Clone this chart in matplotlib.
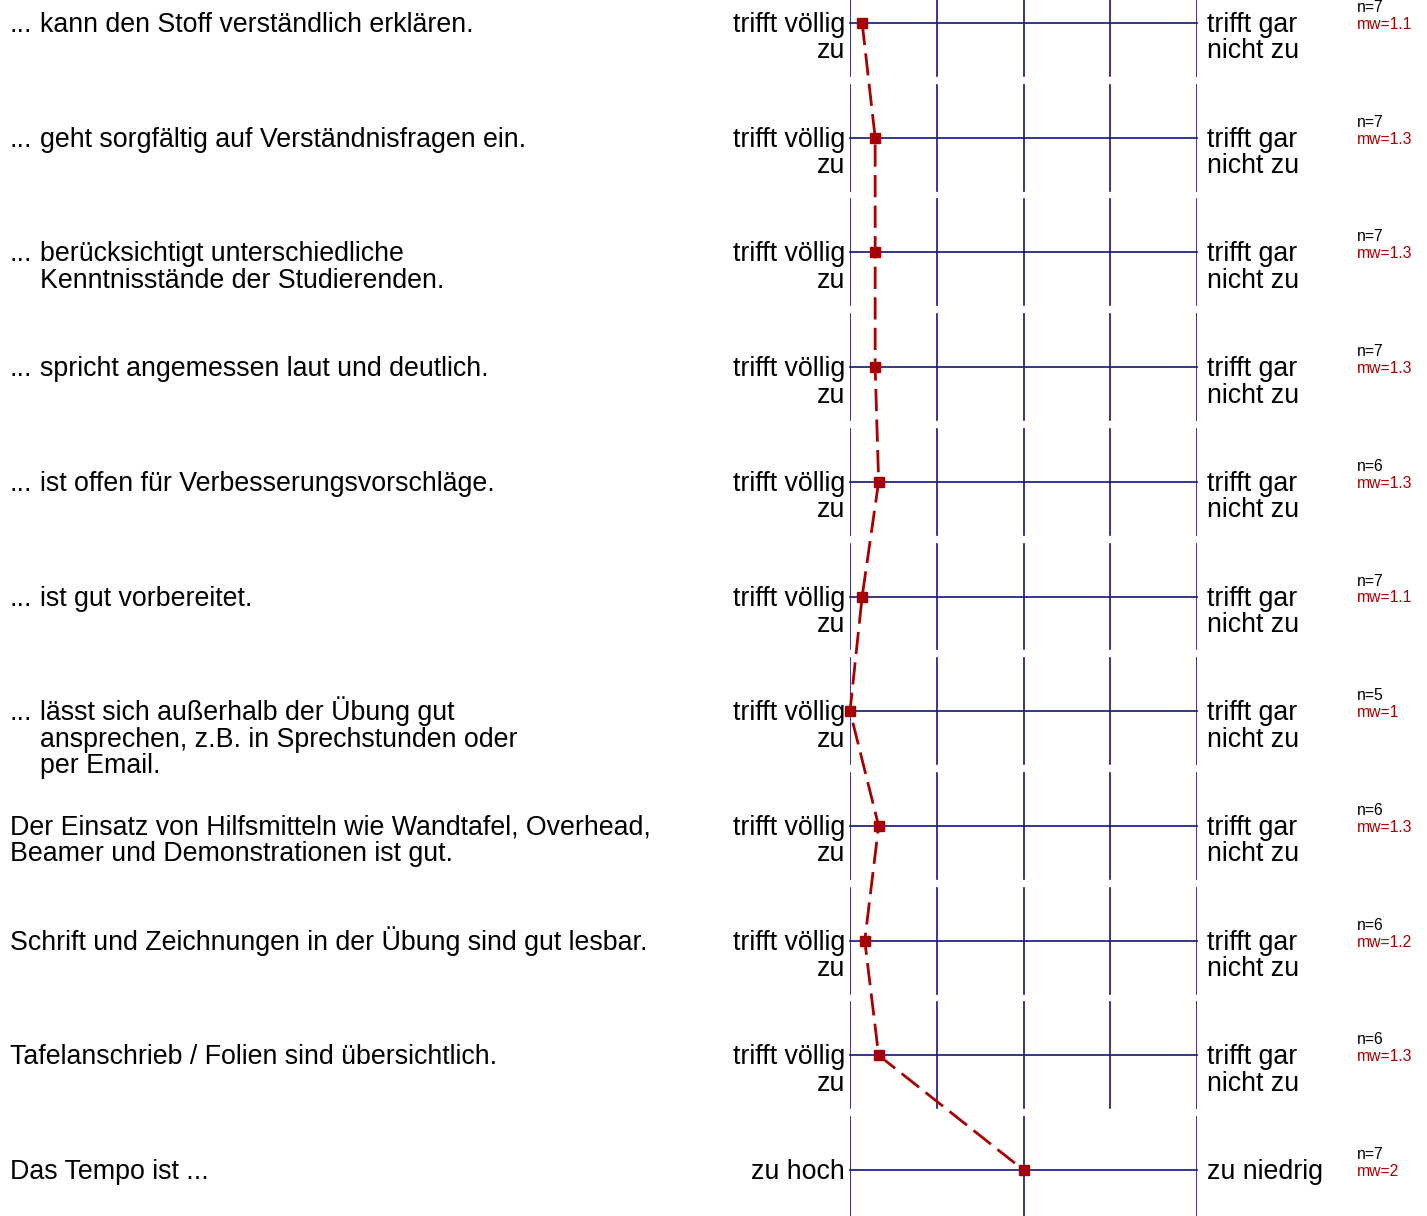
import numpy as np
import matplotlib
matplotlib.use("Agg")
import matplotlib.pyplot as plt
from matplotlib.transforms import blended_transform_factory, offset_copy

plt.rcParams['font.family'] = ['Liberation Sans', 'DejaVu Sans']

# questionnaire items (text after the leading "..." where present)
questions = [
    "kann den Stoff verständlich erklären.",
    "geht sorgfältig auf Verständnisfragen ein.",
    "berücksichtigt unterschiedliche\nKenntnisstände der Studierenden.",
    "spricht angemessen laut und deutlich.",
    "ist offen für Verbesserungsvorschläge.",
    "ist gut vorbereitet.",
    "lässt sich außerhalb der Übung gut\nansprechen, z.B. in Sprechstunden oder\nper Email.",
    "Der Einsatz von Hilfsmitteln wie Wandtafel, Overhead,\nBeamer und Demonstrationen ist gut.",
    "Schrift und Zeichnungen in der Übung sind gut lesbar.",
    "Tafelanschrieb / Folien sind übersichtlich.",
    "Das Tempo ist ...",
]
has_dots = [True, True, True, True, True, True, True, False, False, False, False]
left_poles = ["trifft völlig\nzu"] * 10 + ["zu hoch"]
right_poles = ["trifft gar\nnicht zu"] * 10 + ["zu niedrig"]
n_values = [7, 7, 7, 7, 6, 7, 5, 6, 6, 6, 7]
mw_labels = ["1.1", "1.3", "1.3", "1.3", "1.3", "1.1", "1", "1.3", "1.2", "1.3", "2"]
means = [1.14, 1.29, 1.29, 1.29, 1.33, 1.14, 1.0, 1.33, 1.17, 1.33, 2.0]
scale_points = [5, 5, 5, 5, 5, 5, 5, 5, 5, 5, 3]

NAVY = "#14147f"
RED = "#a80000"
FS = 19.3
LINE_PX = 26.5

fig = plt.figure(figsize=(14.27, 12.16), dpi=100)
W, H = 1427, 1216
row_px = 114.7
top_px = 23
ax = fig.add_axes([850 / W, 0, 347 / W, 1])
ax.set_xlim(1, 5)
ax.set_ylim((H - top_px) / row_px, -top_px / row_px)
ax.axis('off')

rows = np.arange(len(questions))
# position on the common 1..5 axis
pos = [1 + (m - 1) * 4 / (k - 1) for m, k in zip(means, scale_points)]

half = 0.462
for i, k in enumerate(scale_points):
    ax.plot([1, 5], [i, i], color=NAVY, lw=1.2, clip_on=False)
    for t in np.linspace(1, 5, k):
        ax.plot([t, t], [i - half, i + half], color=NAVY, lw=1.2)

ax.plot(pos, rows, color=RED, lw=2.0, dashes=(8, 3), marker='s', ms=6.5,
        mfc=RED, mec=RED, zorder=5, clip_on=False)

trans = blended_transform_factory(fig.transFigure, ax.transData)


def put_text(x_px, row, text, ha='left', fs=FS, color='black'):
    # each line placed on its own baseline so that accents do not shift lines
    for j, line in enumerate(text.split("\n")):
        tr = offset_copy(trans, fig=fig, y=-9 - LINE_PX * j, units='dots')
        fig.text(x_px / W, row, line, transform=tr, fontsize=fs, va='baseline',
                 ha=ha, color=color)


for i in rows:
    if has_dots[i]:
        put_text(10, i, "...")
        put_text(40, i, questions[i])
    else:
        put_text(10, i, questions[i])
    put_text(845, i, left_poles[i], ha='right')
    put_text(1207, i, right_poles[i])
    fig.text(1357 / W, i, f"n={n_values[i]}",
             transform=offset_copy(trans, fig=fig, y=11, units='dots'),
             fontsize=11.3, va='baseline', ha='left')
    fig.text(1357 / W, i, f"mw={mw_labels[i]}",
             transform=offset_copy(trans, fig=fig, y=-6, units='dots'),
             fontsize=11.3, va='baseline', ha='left', color=RED)

fig.savefig("out.png", dpi=100)
